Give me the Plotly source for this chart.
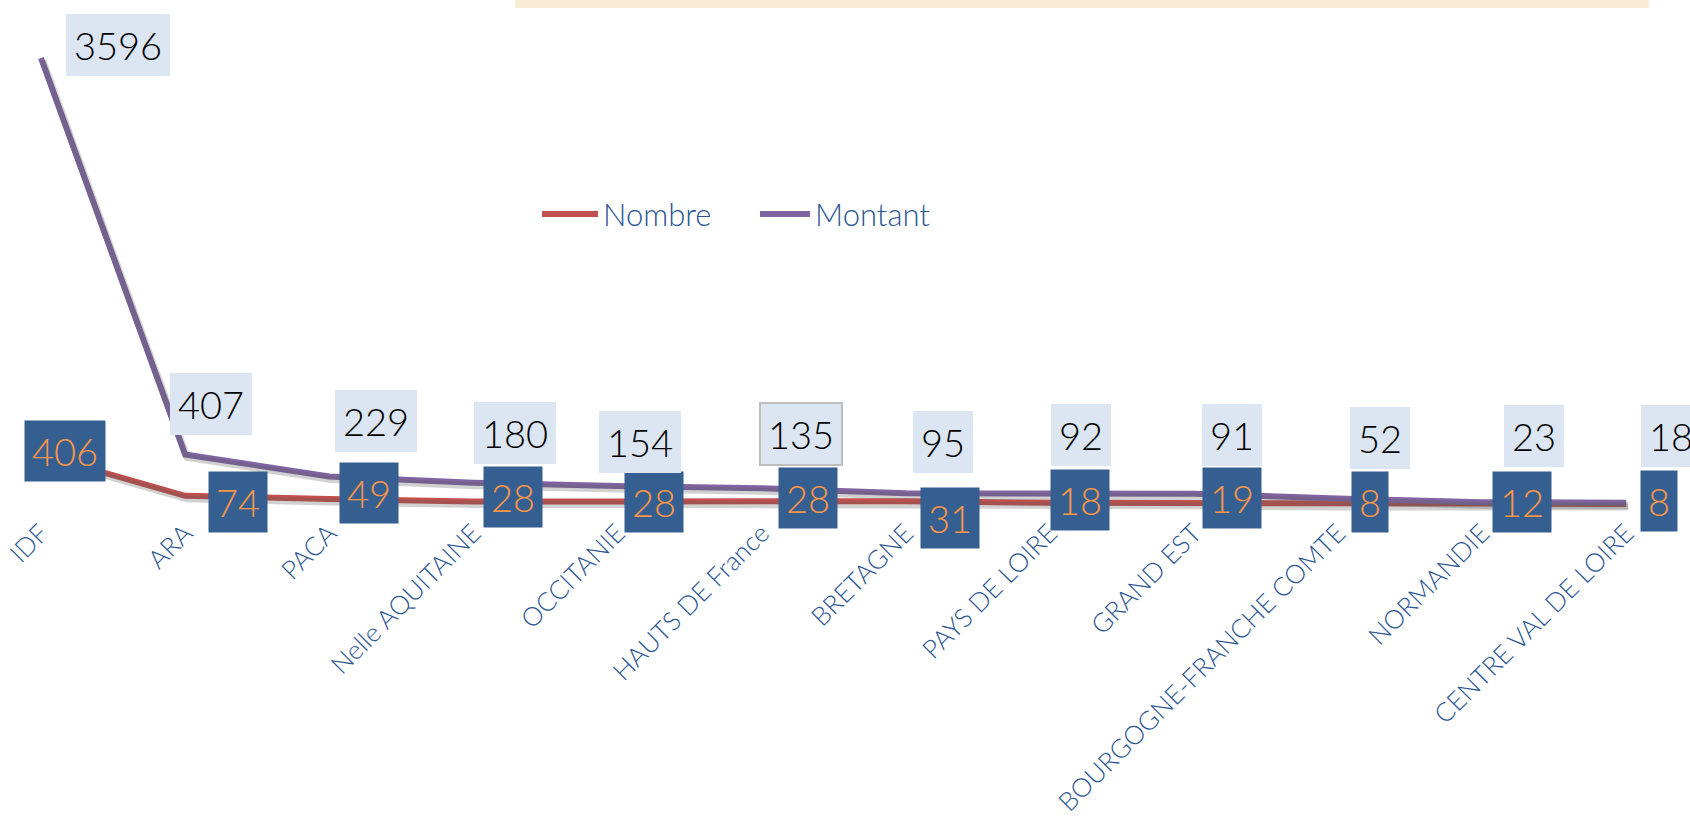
import plotly.graph_objects as go

regions = ['IDF', 'ARA', 'PACA', 'Nelle AQUITAINE', 'OCCITANIE', 'HAUTS DE France',
           'BRETAGNE', 'PAYS DE LOIRE', 'GRAND EST', 'BOURGOGNE-FRANCHE COMTE',
           'NORMANDIE', 'CENTRE VAL DE LOIRE']
nombre = [406, 74, 49, 28, 28, 28, 31, 18, 19, 8, 12, 8]
montant = [3596, 407, 229, 180, 154, 135, 95, 92, 91, 52, 23, 18]
series_names = ['Nombre', 'Montant']

# label offsets in pixels (dx, dy up), as the labels were dragged by hand in the source
nombre_off = [(24, 4), (53, -6), (40, 6), (40, 5), (37, 0), (46, 4),
              (44, -17), (30, 3), (38, 5), (32, 2), (40, 2), (33, 3)]
montant_off = [(77, 13), (26, 50), (47, 56), (42, 50), (23, 44), (39, 54),
               (37, 51), (31, 59), (38, 59), (42, 61), (52, 66), (45, 67)]

RED = '#C0504D'
PURPLE = '#8064A2'
BLUE_TXT = '#2B5592'
FONT = 'Lato'

W, H = 1690, 816
PLOT_H = 512
Y_RANGE = [-56, 4063]
X_RANGE = [-0.2845, 11.443]
px_per_val = PLOT_H / (Y_RANGE[1] - Y_RANGE[0])
px_per_cat = W / (X_RANGE[1] - X_RANGE[0])
sh_dy = 3 / px_per_val
sh_dx = 2 / px_per_cat

fig = go.Figure()

# soft drop shadow under both lines
for vals in (nombre, montant):
    fig.add_trace(go.Scatter(
        x=list(range(len(regions))), y=vals, mode='lines',
        line=dict(color='rgba(90,90,90,0.28)', width=7),
        xaxis='x2', yaxis='y2', showlegend=False, hoverinfo='skip'
    ))

fig.add_trace(go.Scatter(
    x=list(range(len(regions))), y=nombre, mode='lines', name='Nombre',
    line=dict(color=RED, width=6), showlegend=False
))
fig.add_trace(go.Scatter(
    x=list(range(len(regions))), y=montant, mode='lines', name='Montant',
    line=dict(color=PURPLE, width=6), showlegend=False
))

for i, v in enumerate(nombre):
    dx, dy = nombre_off[i]
    fig.add_annotation(
        x=i, y=v, xref='x', yref='y', text=str(v), showarrow=False,
        xshift=dx, yshift=dy, bgcolor='#365F91', borderpad=7,
        font=dict(family=FONT, size=38, color='#F79646', weight=300)
    )

for i, v in enumerate(montant):
    dx, dy = montant_off[i]
    fig.add_annotation(
        x=i, y=v, xref='x', yref='y', text=str(v), showarrow=False,
        xshift=dx, yshift=dy, bgcolor='#DCE6F2', borderpad=7,
        bordercolor='#BFBFBF' if v == 135 else 'rgba(0,0,0,0)', borderwidth=2,
        font=dict(family=FONT, size=38, color='#000000', weight=300)
    )

# legend drawn by hand so the line samples get the long Office look
legend_items = [(series_names[0], RED, 542, 598), (series_names[1], PURPLE, 760, 810)]
leg_y = 1 - 214 / PLOT_H
for name, col, x0, x1 in legend_items:
    fig.add_shape(type='line', xref='paper', yref='paper',
                  x0=x0 / W, x1=x1 / W, y0=leg_y, y1=leg_y,
                  line=dict(color=col, width=6))
    fig.add_annotation(x=(x1 + 3) / W, y=leg_y, xref='paper', yref='paper',
                       text=name, showarrow=False, xanchor='left', yanchor='middle',
                       font=dict(family=FONT, size=31, color=BLUE_TXT, weight=300))

# thin beige band at the top of the slide
fig.add_shape(type='rect', xref='paper', yref='paper',
              x0=515 / W, x1=1649 / W, y0=1 - 8 / PLOT_H, y1=1.0,
              fillcolor='#FAEBD7', line=dict(width=0), layer='below')

fig.update_layout(
    width=W, height=H,
    margin=dict(l=0, r=0, t=0, b=H - PLOT_H, autoexpand=False),
    paper_bgcolor='white', plot_bgcolor='white',
    font=dict(family=FONT, color=BLUE_TXT, weight=300),
    showlegend=False,
    xaxis=dict(range=X_RANGE, tickmode='array', tickvals=list(range(len(regions))),
               ticktext=regions, tickangle=-45, showgrid=False, zeroline=False,
               showline=False, ticks='', automargin=False,
               tickfont=dict(size=26, color=BLUE_TXT, family=FONT, weight=300)),
    yaxis=dict(range=Y_RANGE, visible=False, showgrid=False, zeroline=False,
               automargin=False),
    xaxis2=dict(range=[X_RANGE[0] - sh_dx, X_RANGE[1] - sh_dx], overlaying='x',
                visible=False),
    yaxis2=dict(range=[Y_RANGE[0] + sh_dy, Y_RANGE[1] + sh_dy], overlaying='y',
                visible=False),
)

# the page's default body margin would push the chart 8px off the window edges
fig.write_html('out.html', config={'displayModeBar': False},
               post_script="document.body.style.margin='0';")
